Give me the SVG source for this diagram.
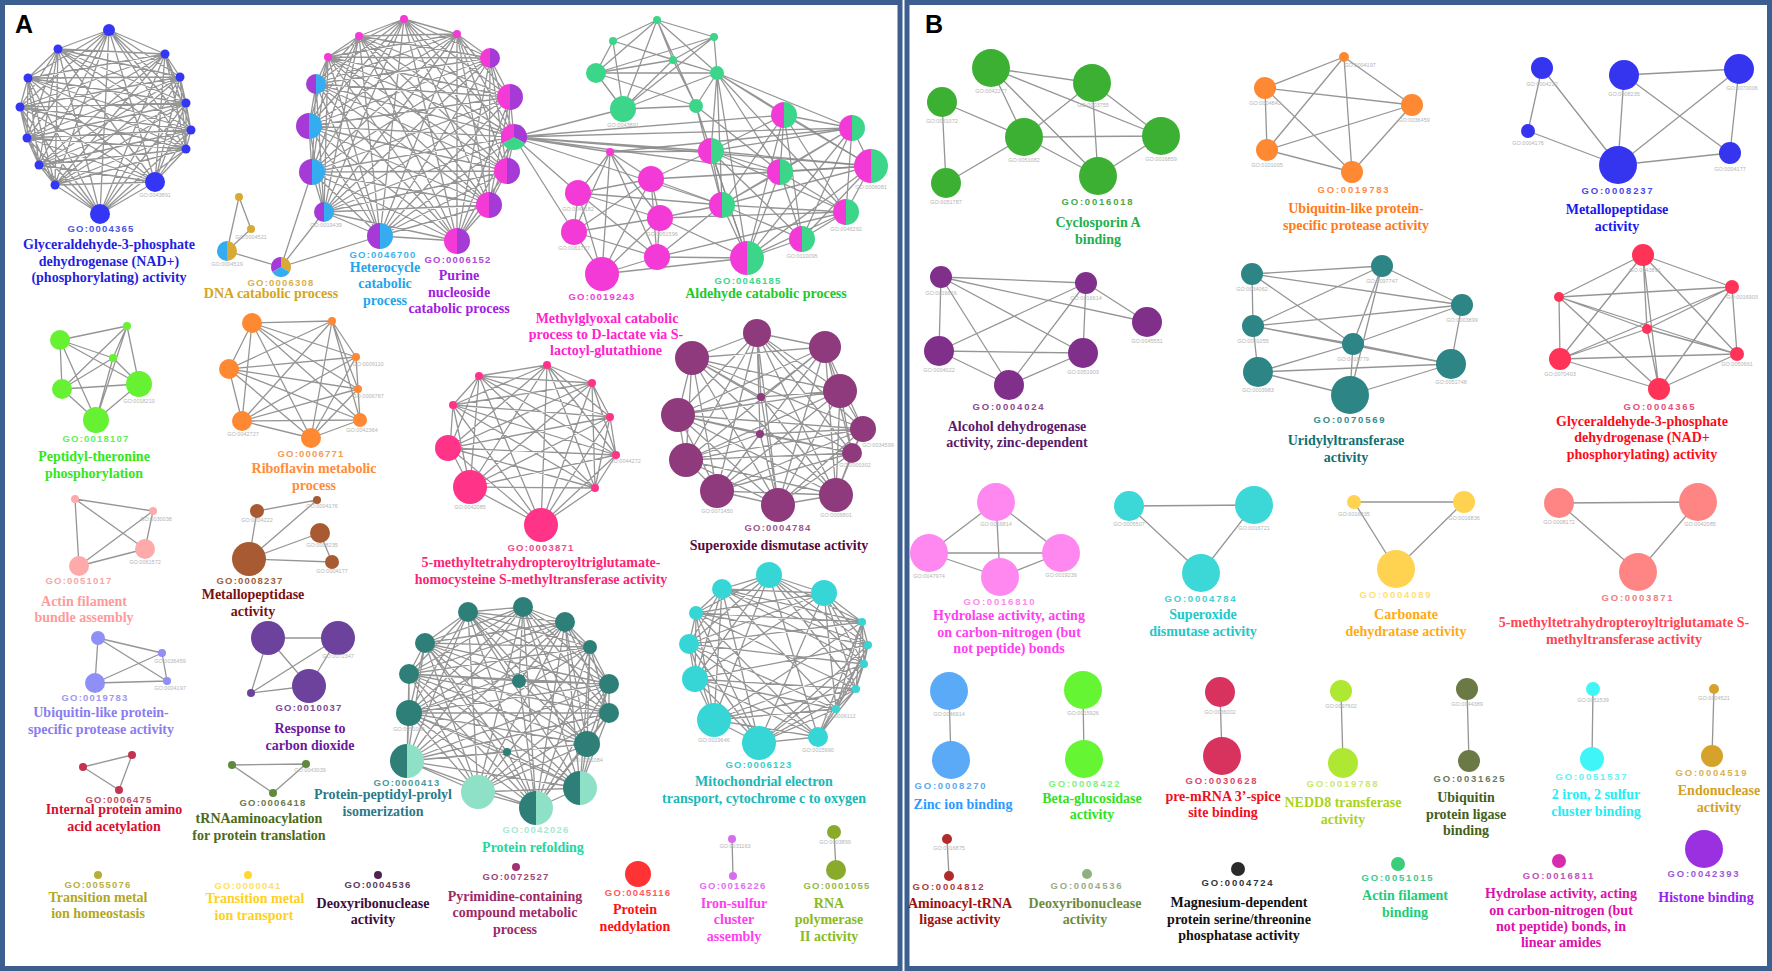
<svg xmlns="http://www.w3.org/2000/svg" width="1772" height="971" viewBox="0 0 1772 971">
<style>
.e{fill:none;stroke:#8a8a8a;stroke-width:1.3;stroke-opacity:.9;stroke-linejoin:round}
.t{font-family:"Liberation Serif","Times New Roman",serif;font-weight:bold;font-size:14px;text-anchor:middle}
.g{font-family:"Liberation Sans",Arial,sans-serif;font-weight:bold;font-size:9.5px;letter-spacing:1.2px;text-anchor:middle}
.gb{letter-spacing:1.8px}
.s{font-family:"Liberation Sans",Arial,sans-serif;font-size:5.5px;fill:#b4b4b4;text-anchor:middle}
.p{font-family:"Liberation Sans",Arial,sans-serif;font-weight:bold;font-size:25px;fill:#000}
.frame{fill:#fff;stroke:#3c5f8f;stroke-width:5}
</style>
<defs>
<linearGradient id="pb"><stop offset="0" stop-color="#a53ad6"/><stop offset=".5" stop-color="#a53ad6"/><stop offset=".5" stop-color="#35abf0"/><stop offset="1" stop-color="#35abf0"/></linearGradient>
<linearGradient id="mp"><stop offset="0" stop-color="#f43ad6"/><stop offset=".5" stop-color="#f43ad6"/><stop offset=".5" stop-color="#a53ad6"/><stop offset="1" stop-color="#a53ad6"/></linearGradient>
<linearGradient id="mg"><stop offset="0" stop-color="#f43ad6"/><stop offset=".5" stop-color="#f43ad6"/><stop offset=".5" stop-color="#3cd68a"/><stop offset="1" stop-color="#3cd68a"/></linearGradient>
<linearGradient id="bg"><stop offset="0" stop-color="#35abf0"/><stop offset=".5" stop-color="#35abf0"/><stop offset=".5" stop-color="#d9a935"/><stop offset="1" stop-color="#d9a935"/></linearGradient>
<linearGradient id="tt"><stop offset="0" stop-color="#2d7f78"/><stop offset=".5" stop-color="#2d7f78"/><stop offset=".5" stop-color="#8ee0c6"/><stop offset="1" stop-color="#8ee0c6"/></linearGradient>
</defs>
<rect x="0" y="0" width="1772" height="971" fill="#fff"/>
<rect class="frame" x="2.5" y="2.5" width="897.5" height="966"/>
<rect class="frame" x="907" y="2.5" width="862.5" height="966"/>
<text class="p" x="15" y="33">A</text>
<text class="p" x="925" y="33">B</text>

<g id="connectors">
<path class="e" d="M109 30L165 54L180 77L186 103L191 130L186 149L155 182L100 214L55 185L39 165L27 138L20 107L28 78L58 49Z M109 30L180 77L191 130L155 182L55 185L27 138L28 78Z M165 54L186 103L186 149L100 214L39 165L20 107L58 49Z M109 30L186 103L155 182L39 165L28 78L165 54L191 130L100 214L27 138L58 49L180 77L186 149L55 185L20 107Z M109 30L191 130L55 185L28 78L180 77L155 182L27 138Z M165 54L186 149L39 165L58 49L186 103L100 214L20 107Z M109 30L186 149L27 138L165 54L155 182L20 107L180 77L100 214L28 78L186 103L55 185L58 49L191 130L39 165Z M109 30L155 182L28 78L191 130L27 138L180 77L55 185Z M165 54L100 214L58 49L186 149L20 107L186 103L39 165Z M109 30L100 214M165 54L55 185M180 77L39 165M186 103L27 138M191 130L20 107M186 149L28 78M155 182L58 49"/>
<path class="e" d="M404 19L457 34L490 58L510 97L514 137L507 171L489 205L457 241L380 236L324 212L312 172L309 126L316 84L328 57L359 36Z M404 19L490 58L514 137L489 205L380 236L312 172L316 84L359 36L457 34L510 97L507 171L457 241L324 212L309 126L328 57Z M404 19L510 97L489 205L324 212L316 84Z M457 34L514 137L457 241L312 172L328 57Z M490 58L507 171L380 236L309 126L359 36Z M404 19L514 137L380 236L316 84L457 34L507 171L324 212L328 57L490 58L489 205L312 172L359 36L510 97L457 241L309 126Z M404 19L507 171L312 172Z M457 34L489 205L309 126Z M490 58L457 241L316 84Z M510 97L380 236L328 57Z M514 137L324 212L359 36Z M404 19L489 205L316 84L510 97L324 212Z M457 34L457 241L328 57L514 137L312 172Z M490 58L380 236L359 36L507 171L309 126Z M404 19L457 241L359 36L489 205L328 57L507 171L316 84L514 137L309 126L510 97L312 172L490 58L324 212L457 34L380 236Z"/>
<path class="e" d="M239 197L227 251M239 197L251 229M251 229L227 251M227 251L281 267M281 267L312 172M281 267L324 212M281 267L380 236"/>
<path class="e" d="M514 137L784 115M514 137L852 128M514 137L871 166M514 137L711 151M514 137L780 172M514 137L610 152M514 137L578 193M514 137L574 232M514 137L722 205M514 137L623 109"/>
<path class="e" d="M657 20L613 41M657 20L714 37M657 20L673 60M657 20L596 73M657 20L717 73M657 20L623 109M657 20L696 106M613 41L596 73M613 41L623 109M613 41L673 60M613 41L717 73M714 37L673 60M714 37L717 73M714 37L623 109M714 37L596 73M673 60L596 73M673 60L623 109M673 60L717 73M673 60L696 106M596 73L623 109M596 73L717 73M596 73L696 106M717 73L696 106M717 73L623 109M623 109L696 106"/>
<path class="e" d="M717 73L784 115M717 73L852 128M717 73L711 151M717 73L780 172M717 73L871 166M717 73L722 205M717 73L846 212M717 73L747 258M696 106L711 151M696 106L722 205M696 106L747 258M696 106L780 172"/>
<path class="e" d="M784 115L852 128L711 151L780 172L871 166L722 205L846 212L802 239L747 258Z M784 115L711 151L871 166L846 212L747 258L852 128L780 172L722 205L802 239Z M784 115L780 172L846 212Z M852 128L871 166L802 239Z M711 151L722 205L747 258Z M784 115L871 166L747 258L780 172L802 239L711 151L846 212L852 128L722 205Z"/>
<path class="e" d="M610 152L651 179L578 193L660 218L574 232L657 257L602 274Z M610 152L578 193L574 232L602 274L651 179L660 218L657 257Z M610 152L660 218L602 274L578 193L657 257L651 179L574 232Z"/>
<path class="e" d="M651 179L711 151M651 179L722 205M651 179L871 166M660 218L722 205M660 218L747 258M660 218L846 212M657 257L747 258M657 257L722 205M602 274L747 258M610 152L711 151M610 152L852 128M578 193L722 205M657 257L846 212M651 179L780 172"/>
<path class="e" d="M60 340L127 326M60 340L62 389M60 340L113 358M60 340L139 384M60 340L96 420M127 326L62 389M127 326L113 358M127 326L139 384M127 326L96 420M62 389L139 384M62 389L96 420M62 389L113 358M113 358L139 384M113 358L96 420M139 384L96 420"/>
<path class="e" d="M252 323L332 321L356 357L358 389L360 420L311 438L242 421L229 369Z M252 323L356 357L360 420L242 421Z M332 321L358 389L311 438L229 369Z M252 323L358 389L242 421L332 321L360 420L229 369L356 357L311 438Z M252 323L360 420M332 321L311 438M356 357L242 421M358 389L229 369"/>
<path class="e" d="M547 365L592 383L610 417L616 455L595 488L541 525L470 487L450 448L453 405L479 376Z M547 365L610 417L595 488L470 487L453 405Z M592 383L616 455L541 525L450 448L479 376Z M547 365L616 455L470 487L479 376L610 417L541 525L453 405L592 383L595 488L450 448Z M547 365L595 488L453 405L610 417L470 487Z M592 383L541 525L479 376L616 455L450 448Z M547 365L541 525M592 383L470 487M610 417L450 448M616 455L453 405M595 488L479 376"/>
<path class="e" d="M757 333L825 347L840 391L863 429L852 453L836 495L778 505L717 491L686 460L678 415L692 358Z M757 333L840 391L852 453L778 505L686 460L692 358L825 347L863 429L836 495L717 491L678 415Z M757 333L863 429L778 505L678 415L825 347L852 453L717 491L692 358L840 391L836 495L686 460Z M757 333L852 453L686 460L825 347L836 495L678 415L840 391L778 505L692 358L863 429L717 491Z M757 333L836 495L692 358L852 453L678 415L863 429L686 460L840 391L717 491L825 347L778 505Z M761 397L757 333M761 397L825 347M761 397L692 358M761 397L840 391M761 397L678 415M761 397L778 505M761 397L836 495M760 434L686 460M760 434L717 491M760 434L778 505M760 434L863 429M760 434L852 453M760 434L678 415M760 434L757 333"/>
<path class="e" d="M75 499L153 511M75 499L145 549M75 499L79 566M153 511L79 566M153 511L145 549M145 549L79 566"/>
<path class="e" d="M257 511L317 500M257 511L249 559M249 559L317 500M249 559L320 533M249 559L332 562M320 533L332 562"/>
<path class="e" d="M98 638L95 683M98 638L162 653M98 638L167 681M95 683L162 653M95 683L167 681M162 653L167 681"/>
<path class="e" d="M268 638L338 638M268 638L309 686M338 638L309 686M251 693L268 638M251 693L338 638M251 693L309 686"/>
<path class="e" d="M468 612L523 607L565 622L590 647L609 684L609 713L587 744L580 788L536 808L478 792L407 761L409 713L409 674L425 643Z M468 612L565 622L609 684L587 744L536 808L407 761L409 674Z M523 607L590 647L609 713L580 788L478 792L409 713L425 643Z M468 612L590 647L587 744L478 792L409 674L523 607L609 684L580 788L407 761L425 643L565 622L609 713L536 808L409 713Z M468 612L609 684L536 808L409 674L565 622L587 744L407 761Z M523 607L609 713L478 792L425 643L590 647L580 788L409 713Z M468 612L609 713L407 761L523 607L587 744L409 713L565 622L580 788L409 674L590 647L536 808L425 643L609 684L478 792Z M468 612L587 744L409 674L609 684L407 761L565 622L536 808Z M523 607L580 788L425 643L609 713L409 713L590 647L478 792Z M468 612L580 788M523 607L536 808M565 622L478 792M590 647L407 761M609 684L409 713M609 713L409 674M587 744L425 643 M519 681L468 612M519 681L523 607M519 681L565 622M519 681L409 674M519 681L409 713M519 681L536 808M519 681L587 744M519 681L609 684M507 752L536 808M507 752L407 761M507 752L409 713M507 752L425 643M507 752L580 788"/>
<path class="e" d="M769 575L824 593L862 622L868 645L864 664L856 689L836 709L818 737L759 743L714 720L695 679L689 644L696 613L722 589Z M769 575L862 622L864 664L836 709L759 743L695 679L696 613Z M824 593L868 645L856 689L818 737L714 720L689 644L722 589Z M769 575L868 645L836 709L714 720L696 613L824 593L864 664L818 737L695 679L722 589L862 622L856 689L759 743L689 644Z M769 575L864 664L759 743L696 613L862 622L836 709L695 679Z M824 593L856 689L714 720L722 589L868 645L818 737L689 644Z M769 575L856 689L695 679L824 593L836 709L689 644L862 622L818 737L696 613L868 645L759 743L722 589L864 664L714 720Z M769 575L818 737M824 593L759 743M862 622L714 720M868 645L695 679M864 664L689 644M856 689L696 613M836 709L722 589"/>
<path class="e" d="M132 755L83 767L119 790Z M232 765L306 764L273 793Z M732 839L733 876 M834 832L836 870"/>
<path class="e" d="M991 68L1092 83M991 68L1024 137M991 68L1098 176M991 68L1161 136M942 102L1024 137M942 102L946 183M946 183L1024 137M1024 137L1092 83M1024 137L1161 136M1024 137L1098 176M1092 83L1098 176M1092 83L1161 136M1161 136L1098 176"/>
<path class="e" d="M1265 88L1344 57M1265 88L1412 105M1265 88L1267 150M1265 88L1352 172M1267 150L1344 57M1267 150L1412 105M1267 150L1352 172M1344 57L1412 105M1344 57L1352 172M1412 105L1352 172"/>
<path class="e" d="M1542 68L1528 131M1542 68L1618 165M1528 131L1618 165M1624 75L1739 69M1624 75L1618 165M1624 75L1730 153M1739 69L1618 165M1739 69L1730 153M1618 165L1730 153"/>
<path class="e" d="M941 277L1086 283M941 277L1147 322M941 277L939 351M941 277L1009 385M941 277L1083 353M1086 283L939 351M1086 283L1009 385M1086 283L1083 353M1086 283L1147 322M939 351L1083 353M939 351L1009 385M1083 353L1009 385"/>
<path class="e" d="M1252 274L1382 266M1252 274L1253 326M1252 274L1462 305M1252 274L1353 344M1253 326L1382 266M1253 326L1462 305M1253 326L1353 344M1253 326L1451 364M1258 372L1353 344M1258 372L1451 364M1258 372L1350 395M1253 326L1258 372M1382 266L1462 305M1382 266L1353 344M1382 266L1350 395M1462 305L1353 344M1462 305L1451 364M1353 344L1451 364M1353 344L1350 395M1350 395L1451 364"/>
<path class="e" d="M1643 255L1732 287L1737 354L1659 389L1560 359L1559 297L1647 329Z M1643 255L1737 354L1560 359L1647 329L1732 287L1659 389L1559 297Z M1643 255L1659 389L1647 329L1737 354L1559 297L1732 287L1560 359Z"/>
<path class="e" d="M996 502L929 553M996 502L1061 553M996 502L1000 577M929 553L1061 553M929 553L1000 577M1000 577L1061 553 M1129 506L1254 505L1201 573Z M1354 502L1464 502L1396 569Z M1559 503L1698 502L1638 572Z"/>
<path class="e" d="M949 691L951 760M1083 690L1084 759M1220 692L1222 756M1341 691L1343 763M1467 689L1469 761M1593 689L1592 759M1714 689L1712 756M947 839L949 876"/>
</g>

<g id="n-GO0004365a" fill="#3535f5">
<circle cx="109" cy="30" r="6"/><circle cx="165" cy="54" r="4.5"/><circle cx="180" cy="77" r="4.5"/><circle cx="186" cy="103" r="4.5"/><circle cx="191" cy="130" r="4.5"/><circle cx="186" cy="149" r="4.5"/><circle cx="155" cy="182" r="10"/><circle cx="100" cy="214" r="10"/><circle cx="55" cy="185" r="4.5"/><circle cx="39" cy="165" r="4.5"/><circle cx="27" cy="138" r="4.5"/><circle cx="20" cy="107" r="4.5"/><circle cx="28" cy="78" r="4.5"/><circle cx="58" cy="49" r="4.5"/>
<text class="s" x="155" y="197">GO:0043891</text>
<text class="g" x="101" y="232" fill="#4a55e6">GO:0004365</text>
<text class="t" fill="#1f1fe0"><tspan x="109" y="249">Glyceraldehyde-3-phosphate</tspan><tspan x="109" y="266">dehydrogenase (NAD+)</tspan><tspan x="109" y="282">(phosphorylating) activity</tspan></text>
</g>

<g id="n-GO0006308">
<circle cx="239" cy="197" r="4" fill="#d9a935"/><circle cx="251" cy="229" r="4" fill="#d9a935"/><circle cx="227" cy="251" r="10" fill="url(#bg)"/>
<path d="M281 267L281 257A10 10 0 0 0 272.34 272Z" fill="#a53ad6"/><path d="M281 267L281 257A10 10 0 0 1 289.66 272Z" fill="#d9a935"/><path d="M281 267L289.66 272A10 10 0 0 1 272.34 272Z" fill="#35abf0"/>
<text class="s" x="251" y="239">GO:0004521</text><text class="s" x="227" y="266">GO:0004519</text>
<text class="g" x="281" y="286" fill="#d9b04a">GO:0006308</text>
<text class="t" x="271" y="298" fill="#d4a520">DNA catabolic process</text>
</g>

<g id="n-GO0046700">
<circle cx="404" cy="19" r="4" fill="#f43ad6"/><circle cx="457" cy="34" r="4" fill="#f43ad6"/><circle cx="328" cy="57" r="4" fill="#f43ad6"/><circle cx="359" cy="36" r="4" fill="#f43ad6"/>
<circle cx="316" cy="84" r="10" fill="url(#pb)"/><circle cx="309" cy="126" r="13" fill="url(#pb)"/><circle cx="312" cy="172" r="13" fill="url(#pb)"/><circle cx="324" cy="212" r="10" fill="url(#pb)"/><circle cx="380" cy="236" r="13" fill="url(#pb)"/>
<text class="s" x="326" y="227">GO:0019439</text>
<text class="g" x="383" y="258" fill="#3ab4ee">GO:0046700</text>
<text class="t" fill="#1fa5ec"><tspan x="385" y="272">Heterocycle</tspan><tspan x="385" y="288">catabolic</tspan><tspan x="385" y="305">process</tspan></text>
</g>

<g id="n-GO0006152">
<circle cx="490" cy="58" r="10" fill="url(#mp)"/><circle cx="510" cy="97" r="13" fill="url(#mp)"/><circle cx="507" cy="171" r="13" fill="url(#mp)"/><circle cx="489" cy="205" r="13" fill="url(#mp)"/><circle cx="457" cy="241" r="13" fill="url(#mp)"/>
<path d="M514 137L514 124A13 13 0 0 0 502.74 143.5Z" fill="#f43ad6"/><path d="M514 137L514 124A13 13 0 0 1 525.26 143.5Z" fill="#a53ad6"/><path d="M514 137L525.26 143.5A13 13 0 0 1 502.74 143.5Z" fill="#3cd68a"/>
<text class="g" x="458" y="263" fill="#b048d8">GO:0006152</text>
<text class="t" fill="#a020e0"><tspan x="459" y="280">Purine</tspan><tspan x="459" y="297">nucleoside</tspan><tspan x="459" y="313">catabolic process</tspan></text>
</g>

<g id="n-GO0019243" fill="#f43ad6">
<circle cx="610" cy="152" r="4"/><circle cx="651" cy="179" r="13"/><circle cx="578" cy="193" r="13"/><circle cx="660" cy="218" r="13"/><circle cx="574" cy="232" r="13"/><circle cx="657" cy="257" r="13"/><circle cx="602" cy="274" r="17"/>
<text class="s" x="578" y="211">GO:0042182</text><text class="s" x="662" y="236">GO:0051596</text><text class="s" x="574" y="250">GO:0061727</text>
<text class="g" x="602" y="300" fill="#f040d0">GO:0019243</text>
<text class="t" fill="#ff22cc"><tspan x="607" y="323">Methylglyoxal catabolic</tspan><tspan x="606" y="339">process to D-lactate via S-</tspan><tspan x="606" y="355">lactoyl-glutathione</tspan></text>
</g>

<g id="n-GO0046185">
<g fill="#3cd68a"><circle cx="657" cy="20" r="4"/><circle cx="613" cy="41" r="4"/><circle cx="714" cy="37" r="4"/><circle cx="673" cy="60" r="4"/><circle cx="596" cy="73" r="10"/><circle cx="717" cy="73" r="7"/><circle cx="623" cy="109" r="13"/><circle cx="696" cy="106" r="7"/></g>
<g fill="url(#mg)"><circle cx="784" cy="115" r="13"/><circle cx="852" cy="128" r="13"/><circle cx="711" cy="151" r="13"/><circle cx="780" cy="172" r="13"/><circle cx="871" cy="166" r="17"/><circle cx="722" cy="205" r="13"/><circle cx="846" cy="212" r="13"/><circle cx="802" cy="239" r="13"/><circle cx="747" cy="258" r="17"/></g>
<text class="s" x="623" y="127">GO:0043891</text><text class="s" x="871" y="189">GO:0006081</text><text class="s" x="846" y="231">GO:0046292</text><text class="s" x="802" y="258">GO:0110095</text>
<text class="g" x="748" y="284" fill="#3dd68c">GO:0046185</text>
<text class="t" x="766" y="298" fill="#22c82a">Aldehyde catabolic process</text>
</g>

<g id="n-GO0018107" fill="#66f233">
<circle cx="127" cy="326" r="4"/><circle cx="60" cy="340" r="10"/><circle cx="113" cy="358" r="4"/><circle cx="62" cy="389" r="10"/><circle cx="139" cy="384" r="13"/><circle cx="96" cy="420" r="13"/>
<text class="s" x="139" y="403">GO:0018210</text>
<text class="g" x="96" y="442" fill="#66ee55">GO:0018107</text>
<text class="t" fill="#33e61a"><tspan x="94" y="461">Peptidyl-theronine</tspan><tspan x="94" y="478">phosphorylation</tspan></text>
</g>

<g id="n-GO0006771" fill="#ff8833">
<circle cx="252" cy="323" r="10"/><circle cx="332" cy="321" r="4"/><circle cx="229" cy="369" r="10"/><circle cx="356" cy="357" r="4"/><circle cx="358" cy="389" r="4"/><circle cx="242" cy="421" r="10"/><circle cx="360" cy="420" r="7"/><circle cx="311" cy="438" r="10"/>
<text class="s" x="368" y="366">GO:0009110</text><text class="s" x="368" y="398">GO:0006767</text><text class="s" x="243" y="436">GO:0042727</text><text class="s" x="362" y="432">GO:0042364</text>
<text class="g" x="311" y="457" fill="#f59a55">GO:0006771</text>
<text class="t" fill="#ff8c3a"><tspan x="314" y="473">Riboflavin metabolic</tspan><tspan x="314" y="490">process</tspan></text>
</g>

<g id="n-GO0051017" fill="#ffaaaa">
<circle cx="75" cy="499" r="4"/><circle cx="153" cy="511" r="4"/><circle cx="145" cy="549" r="10"/><circle cx="79" cy="566" r="10"/>
<text class="s" x="156" y="521">GO:0030038</text><text class="s" x="145" y="564">GO:0061572</text>
<text class="g" x="79" y="584" fill="#f5a8a8">GO:0051017</text>
<text class="t" fill="#ff9a9a"><tspan x="84" y="606">Actin filament</tspan><tspan x="84" y="622">bundle assembly</tspan></text>
</g>

<g id="n-GO0008237a" fill="#a85a32">
<circle cx="257" cy="511" r="7"/><circle cx="317" cy="500" r="4"/><circle cx="320" cy="533" r="10"/><circle cx="332" cy="562" r="7"/><circle cx="249" cy="559" r="17"/>
<text class="s" x="257" y="522">GO:0004222</text><text class="s" x="322" y="508">GO:0004176</text><text class="s" x="322" y="547">GO:0008235</text><text class="s" x="332" y="573">GO:0004177</text>
<text class="g" x="250" y="584" fill="#a0603a">GO:0008237</text>
<text class="t" fill="#7a1010"><tspan x="253" y="599">Metallopeptidase</tspan><tspan x="253" y="616">activity</tspan></text>
</g>

<g id="n-GO0003871a" fill="#ff3388">
<circle cx="547" cy="365" r="4"/><circle cx="592" cy="383" r="4"/><circle cx="610" cy="417" r="4"/><circle cx="616" cy="455" r="4"/><circle cx="595" cy="488" r="4"/><circle cx="541" cy="525" r="17"/><circle cx="470" cy="487" r="17"/><circle cx="448" cy="448" r="13"/><circle cx="453" cy="405" r="4"/><circle cx="479" cy="376" r="4"/>
<text class="s" x="625" y="463">GO:0044272</text><text class="s" x="470" y="509">GO:0042085</text>
<text class="g" x="541" y="551" fill="#f04a8a">GO:0003871</text>
<text class="t" fill="#ff1f75"><tspan x="541" y="567">5-methyltetrahydropteroyltriglutamate-</tspan><tspan x="541" y="584">homocysteine S-methyltransferase activity</tspan></text>
</g>

<g id="n-GO0004784a" fill="#8e3a7c">
<circle cx="757" cy="333" r="14"/><circle cx="825" cy="347" r="16"/><circle cx="692" cy="358" r="17"/><circle cx="840" cy="391" r="17"/><circle cx="761" cy="397" r="4"/><circle cx="678" cy="415" r="17"/><circle cx="863" cy="429" r="13"/><circle cx="760" cy="434" r="4"/><circle cx="686" cy="460" r="17"/><circle cx="852" cy="453" r="10"/><circle cx="717" cy="491" r="17"/><circle cx="836" cy="495" r="17"/><circle cx="778" cy="505" r="17"/>
<text class="s" x="717" y="513">GO:0071450</text><text class="s" x="836" y="517">GO:0006801</text><text class="s" x="855" y="467">GO:0000302</text><text class="s" x="878" y="447">GO:0034599</text>
<text class="g" x="778" y="531" fill="#9a5a8a">GO:0004784</text>
<text class="t" x="779" y="550" fill="#5a0a3c">Superoxide dismutase activity</text>
</g>

<g id="n-GO0019783a" fill="#8f8ff8">
<circle cx="98" cy="638" r="7"/><circle cx="162" cy="653" r="4"/><circle cx="167" cy="681" r="4"/><circle cx="95" cy="683" r="10"/>
<text class="s" x="170" y="663">GO:0036459</text><text class="s" x="170" y="690">GO:0004197</text>
<text class="g" x="95" y="701" fill="#a098f0">GO:0019783</text>
<text class="t" fill="#8a7cf0"><tspan x="101" y="717">Ubiquitin-like protein-</tspan><tspan x="101" y="734">specific protease activity</tspan></text>
</g>

<g id="n-GO0010037" fill="#6c429c">
<circle cx="268" cy="638" r="17"/><circle cx="338" cy="638" r="17"/><circle cx="309" cy="686" r="17"/><circle cx="251" cy="693" r="4"/>
<text class="s" x="338" y="658">GO:0072347</text>
<text class="g" x="309" y="711" fill="#7a4a9a">GO:0010037</text>
<text class="t" fill="#6a1aa0"><tspan x="310" y="733">Response to</tspan><tspan x="310" y="750">carbon dioxide</tspan></text>
</g>

<g id="n-GO0042026">
<g fill="#2d7f78"><circle cx="468" cy="612" r="10"/><circle cx="523" cy="607" r="10"/><circle cx="565" cy="622" r="10"/><circle cx="590" cy="647" r="7"/><circle cx="609" cy="684" r="10"/><circle cx="609" cy="713" r="10"/><circle cx="587" cy="744" r="13"/><circle cx="409" cy="713" r="13"/><circle cx="409" cy="674" r="10"/><circle cx="425" cy="643" r="10"/><circle cx="519" cy="681" r="7"/><circle cx="507" cy="752" r="4"/></g>
<circle cx="478" cy="792" r="17" fill="#8ee0c6"/>
<circle cx="580" cy="788" r="17" fill="url(#tt)"/><circle cx="536" cy="808" r="17" fill="url(#tt)"/>
<text class="s" x="587" y="762">GO:0051084</text><text class="s" x="409" y="731">GO:0051085</text>
<text class="g" x="536" y="833" fill="#a8e8d5">GO:0042026</text>
<text class="t" x="533" y="852" fill="#20d8a0">Protein refolding</text>
</g>

<g id="n-GO0000413">
<circle cx="407" cy="761" r="17" fill="url(#tt)"/>
<text class="g" x="407" y="786" fill="#4a9a9a">GO:0000413</text>
<text class="t" fill="#2a7a8a"><tspan x="383" y="799">Protein-peptidyl-prolyl</tspan><tspan x="383" y="816">isomerization</tspan></text>
</g>

<g id="n-GO0006123" fill="#36d6d6">
<circle cx="769" cy="575" r="13"/><circle cx="824" cy="593" r="13"/><circle cx="862" cy="622" r="4"/><circle cx="868" cy="645" r="4"/><circle cx="864" cy="664" r="4"/><circle cx="856" cy="689" r="4"/><circle cx="836" cy="709" r="4"/><circle cx="818" cy="737" r="10"/><circle cx="759" cy="743" r="17"/><circle cx="714" cy="720" r="17"/><circle cx="695" cy="679" r="13"/><circle cx="689" cy="644" r="10"/><circle cx="696" cy="613" r="7"/><circle cx="722" cy="589" r="10"/>
<text class="s" x="714" y="742">GO:0019646</text><text class="s" x="818" y="752">GO:0015990</text><text class="s" x="840" y="718">GO:0006112</text>
<text class="g" x="759" y="768" fill="#3acccc">GO:0006123</text>
<text class="t" fill="#18b8b8"><tspan x="764" y="786">Mitochondrial electron</tspan><tspan x="764" y="803">transport, cytochrome c to oxygen</tspan></text>
</g>

<g id="n-GO0006475" fill="#c43450">
<circle cx="132" cy="755" r="4"/><circle cx="83" cy="767" r="4"/><circle cx="119" cy="790" r="4"/>
<text class="g" x="119" y="803" fill="#c04a5a">GO:0006475</text>
<text class="t" fill="#d81030"><tspan x="114" y="814">Internal protein amino</tspan><tspan x="114" y="831">acid acetylation</tspan></text>
</g>

<g id="n-GO0006418" fill="#5f8a3c">
<circle cx="232" cy="765" r="4"/><circle cx="306" cy="764" r="4"/><circle cx="273" cy="793" r="4"/>
<text class="s" x="310" y="772">GO:0043039</text>
<text class="g" x="273" y="806" fill="#6a7a4a">GO:0006418</text>
<text class="t" fill="#4a6a1a"><tspan x="259" y="823">tRNAaminoacylation</tspan><tspan x="259" y="840">for protein translation</tspan></text>
</g>

<g id="n-GO0055076">
<circle cx="98" cy="875" r="4" fill="#b5b035"/>
<text class="g" x="98" y="888" fill="#b8b040">GO:0055076</text>
<text class="t" fill="#b0a820"><tspan x="98" y="902">Transition metal</tspan><tspan x="98" y="918">ion homeostasis</tspan></text>
</g>

<g id="n-GO0000041">
<circle cx="248" cy="875" r="4" fill="#ffd633"/>
<text class="g" x="248" y="889" fill="#ffe060">GO:0000041</text>
<text class="t" fill="#ffd020"><tspan x="255" y="903">Transition metal</tspan><tspan x="254" y="920">ion transport</tspan></text>
</g>

<g id="n-GO0004536a">
<circle cx="378" cy="875" r="4" fill="#4f2250"/>
<text class="g" x="378" y="888" fill="#5a3a5a">GO:0004536</text>
<text class="t" fill="#3d0d3d"><tspan x="373" y="908">Deoxyribonuclease</tspan><tspan x="373" y="924">activity</tspan></text>
</g>

<g id="n-GO0072527">
<circle cx="516" cy="867" r="4" fill="#a33070"/>
<text class="g" x="516" y="880" fill="#a04878">GO:0072527</text>
<text class="t" fill="#9c2a68"><tspan x="515" y="901">Pyrimidine-containing</tspan><tspan x="515" y="917">compound metabolic</tspan><tspan x="515" y="934">process</tspan></text>
</g>

<g id="n-GO0045116">
<circle cx="638" cy="874" r="13" fill="#ff3333"/>
<text class="g" x="638" y="896" fill="#ff5a5a">GO:0045116</text>
<text class="t" fill="#ff1010"><tspan x="635" y="914">Protein</tspan><tspan x="635" y="931">neddylation</tspan></text>
</g>

<g id="n-GO0016226" fill="#d86cf0">
<circle cx="732" cy="839" r="4"/><circle cx="733" cy="876" r="4"/>
<text class="s" x="735" y="848">GO:0031163</text>
<text class="g" x="733" y="889" fill="#e070f0">GO:0016226</text>
<text class="t" fill="#ff40ee"><tspan x="734" y="908">Iron-sulfur</tspan><tspan x="734" y="924">cluster</tspan><tspan x="734" y="941">assembly</tspan></text>
</g>

<g id="n-GO0001055" fill="#8aaa2c">
<circle cx="834" cy="832" r="7"/><circle cx="836" cy="870" r="10"/>
<text class="s" x="835" y="844">GO:0003899</text>
<text class="g" x="837" y="889" fill="#98b848">GO:0001055</text>
<text class="t" fill="#88bb20"><tspan x="829" y="908">RNA</tspan><tspan x="829" y="924">polymerase</tspan><tspan x="829" y="941">II activity</tspan></text>
</g>

<g id="n-GO0016018" fill="#3cb033">
<circle cx="991" cy="68" r="19"/><circle cx="942" cy="102" r="15"/><circle cx="1092" cy="83" r="19"/><circle cx="1024" cy="137" r="19"/><circle cx="1161" cy="136" r="19"/><circle cx="946" cy="183" r="15"/><circle cx="1098" cy="176" r="19"/>
<text class="s" x="991" y="93">GO:0042277</text><text class="s" x="942" y="123">GO:0051072</text><text class="s" x="1093" y="107">GO:0003755</text><text class="s" x="1024" y="162">GO:0051082</text><text class="s" x="1161" y="161">GO:0016859</text><text class="s" x="946" y="204">GO:0051787</text>
<text class="g gb" x="1098" y="205" fill="#4aa84a">GO:0016018</text>
<text class="t" fill="#20b050"><tspan x="1098" y="227">Cyclosporin A</tspan><tspan x="1098" y="244">binding</tspan></text>
</g>

<g id="n-GO0019783b" fill="#ff8833">
<circle cx="1265" cy="88" r="11"/><circle cx="1267" cy="150" r="11"/><circle cx="1344" cy="57" r="5"/><circle cx="1412" cy="105" r="11"/><circle cx="1352" cy="172" r="11"/>
<text class="s" x="1265" y="105">GO:0004843</text><text class="s" x="1267" y="167">GO:0101005</text><text class="s" x="1360" y="67">GO:0004197</text><text class="s" x="1414" y="122">GO:0036459</text>
<text class="g gb" x="1354" y="193" fill="#ff8c42">GO:0019783</text>
<text class="t" fill="#ff7a1a"><tspan x="1356" y="213">Ubiquitin-like protein-</tspan><tspan x="1356" y="230">specific protease activity</tspan></text>
</g>

<g id="n-GO0008237b" fill="#3535f0">
<circle cx="1542" cy="68" r="11"/><circle cx="1624" cy="75" r="15"/><circle cx="1739" cy="69" r="15"/><circle cx="1528" cy="131" r="7"/><circle cx="1730" cy="153" r="11"/><circle cx="1618" cy="165" r="19"/>
<text class="s" x="1542" y="86">GO:0004222</text><text class="s" x="1624" y="96">GO:0008235</text><text class="s" x="1742" y="90">GO:0070006</text><text class="s" x="1528" y="145">GO:0004176</text><text class="s" x="1730" y="171">GO:0004177</text>
<text class="g gb" x="1618" y="194" fill="#4a4ae8">GO:0008237</text>
<text class="t" fill="#1818f0"><tspan x="1617" y="214">Metallopeptidase</tspan><tspan x="1617" y="231">activity</tspan></text>
</g>

<g id="n-GO0004024" fill="#80308a">
<circle cx="941" cy="277" r="11"/><circle cx="1086" cy="283" r="11"/><circle cx="1147" cy="322" r="15"/><circle cx="939" cy="351" r="15"/><circle cx="1083" cy="353" r="15"/><circle cx="1009" cy="385" r="15"/>
<text class="s" x="941" y="295">GO:0016616</text><text class="s" x="1086" y="300">GO:0016614</text><text class="s" x="1147" y="343">GO:0045551</text><text class="s" x="939" y="372">GO:0004022</text><text class="s" x="1083" y="374">GO:0051903</text>
<text class="g gb" x="1009" y="410" fill="#8a4a8f">GO:0004024</text>
<text class="t" fill="#5a1a6a"><tspan x="1017" y="431">Alcohol dehydrogenase</tspan><tspan x="1017" y="447">activity, zinc-dependent</tspan></text>
</g>

<g id="n-GO0070569" fill="#2e8585">
<circle cx="1252" cy="274" r="11"/><circle cx="1253" cy="326" r="11"/><circle cx="1258" cy="372" r="15"/><circle cx="1382" cy="266" r="11"/><circle cx="1462" cy="305" r="11"/><circle cx="1353" cy="344" r="11"/><circle cx="1451" cy="364" r="15"/><circle cx="1350" cy="395" r="19"/>
<text class="s" x="1252" y="291">GO:0034062</text><text class="s" x="1253" y="343">GO:0001055</text><text class="s" x="1258" y="392">GO:0003983</text><text class="s" x="1382" y="283">GO:0097747</text><text class="s" x="1462" y="322">GO:0003899</text><text class="s" x="1353" y="361">GO:0016779</text><text class="s" x="1451" y="384">GO:0051748</text>
<text class="g gb" x="1350" y="423" fill="#3a8a8a">GO:0070569</text>
<text class="t" fill="#137070"><tspan x="1346" y="445">Uridylyltransferase</tspan><tspan x="1346" y="462">activity</tspan></text>
</g>

<g id="n-GO0004365b" fill="#ff3358">
<circle cx="1643" cy="255" r="11"/><circle cx="1732" cy="287" r="7"/><circle cx="1559" cy="297" r="5"/><circle cx="1647" cy="329" r="5"/><circle cx="1560" cy="359" r="11"/><circle cx="1737" cy="354" r="7"/><circle cx="1659" cy="389" r="11"/>
<text class="s" x="1645" y="272">GO:0043891</text><text class="s" x="1742" y="299">GO:0016903</text><text class="s" x="1560" y="376">GO:0070403</text><text class="s" x="1737" y="366">GO:0050661</text>
<text class="g gb" x="1660" y="410" fill="#e8507a">GO:0004365</text>
<text class="t" fill="#ff0a1a"><tspan x="1642" y="426">Glyceraldehyde-3-phosphate</tspan><tspan x="1642" y="442">dehydrogenase (NAD+</tspan><tspan x="1642" y="459">phosphorylating) activity</tspan></text>
</g>

<g id="n-GO0016810" fill="#ff88f0">
<circle cx="996" cy="502" r="19"/><circle cx="929" cy="553" r="19"/><circle cx="1061" cy="553" r="19"/><circle cx="1000" cy="577" r="19"/>
<text class="s" x="996" y="526">GO:0016814</text><text class="s" x="929" y="578">GO:0047974</text><text class="s" x="1061" y="577">GO:0019239</text>
<text class="g gb" x="1000" y="605" fill="#ff88ee">GO:0016810</text>
<text class="t" fill="#ff40f0"><tspan x="1009" y="620">Hydrolase activity, acting</tspan><tspan x="1009" y="637">on carbon-nitrogen (but</tspan><tspan x="1009" y="653">not peptide) bonds</tspan></text>
</g>

<g id="n-GO0004784b" fill="#3cd8d8">
<circle cx="1129" cy="506" r="15"/><circle cx="1254" cy="505" r="19"/><circle cx="1201" cy="573" r="19"/>
<text class="s" x="1129" y="526">GO:0005507</text><text class="s" x="1254" y="530">GO:0016721</text>
<text class="g gb" x="1201" y="602" fill="#40d0d0">GO:0004784</text>
<text class="t" fill="#20c8c8"><tspan x="1203" y="619">Superoxide</tspan><tspan x="1203" y="636">dismutase activity</tspan></text>
</g>

<g id="n-GO0004089" fill="#ffd24f">
<circle cx="1354" cy="502" r="7"/><circle cx="1464" cy="502" r="11"/><circle cx="1396" cy="569" r="19"/>
<text class="s" x="1354" y="516">GO:0016835</text><text class="s" x="1464" y="520">GO:0016836</text>
<text class="g gb" x="1396" y="598" fill="#ffe070">GO:0004089</text>
<text class="t" fill="#ffaa10"><tspan x="1406" y="619">Carbonate</tspan><tspan x="1406" y="636">dehydratase activity</tspan></text>
</g>

<g id="n-GO0003871b" fill="#ff8585">
<circle cx="1559" cy="503" r="15"/><circle cx="1698" cy="502" r="19"/><circle cx="1638" cy="572" r="19"/>
<text class="s" x="1559" y="524">GO:0008172</text><text class="s" x="1700" y="526">GO:0042085</text>
<text class="g gb" x="1638" y="601" fill="#f08080">GO:0003871</text>
<text class="t" fill="#ff4455"><tspan x="1624" y="627">5-methyltetrahydropteroyltriglutamate S-</tspan><tspan x="1624" y="644">methyltransferase activity</tspan></text>
</g>

<g id="n-GO0008270" fill="#5aaaf8">
<circle cx="949" cy="691" r="19"/><circle cx="951" cy="760" r="19"/>
<text class="s" x="949" y="716">GO:0046914</text>
<text class="g gb" x="951" y="789" fill="#5aaaf0">GO:0008270</text>
<text class="t" x="963" y="809" fill="#2e9aff">Zinc ion binding</text>
</g>

<g id="n-GO0008422" fill="#66f533">
<circle cx="1083" cy="690" r="19"/><circle cx="1084" cy="759" r="19"/>
<text class="s" x="1083" y="715">GO:0015926</text>
<text class="g gb" x="1085" y="787" fill="#80f080">GO:0008422</text>
<text class="t" fill="#33e022"><tspan x="1092" y="803">Beta-glucosidase</tspan><tspan x="1092" y="819">activity</tspan></text>
</g>

<g id="n-GO0030628" fill="#d8335e">
<circle cx="1220" cy="692" r="15"/><circle cx="1222" cy="756" r="19"/>
<text class="s" x="1220" y="714">GO:0036002</text>
<text class="g gb" x="1222" y="784" fill="#d84a6a">GO:0030628</text>
<text class="t" fill="#ee1022"><tspan x="1223" y="801">pre-mRNA 3’-spice</tspan><tspan x="1223" y="817">site binding</tspan></text>
</g>

<g id="n-GO0019788" fill="#aee833">
<circle cx="1341" cy="691" r="11"/><circle cx="1343" cy="763" r="15"/>
<text class="s" x="1341" y="708">GO:0097602</text>
<text class="g gb" x="1343" y="787" fill="#c8e870">GO:0019788</text>
<text class="t" fill="#a8d418"><tspan x="1343" y="807">NEDD8 transferase</tspan><tspan x="1343" y="824">activity</tspan></text>
</g>

<g id="n-GO0031625" fill="#6b7a45">
<circle cx="1467" cy="689" r="11"/><circle cx="1469" cy="761" r="11"/>
<text class="s" x="1467" y="706">GO:0044389</text>
<text class="g gb" x="1470" y="782" fill="#6a7a5a">GO:0031625</text>
<text class="t" fill="#44601a"><tspan x="1466" y="802">Ubiquitin</tspan><tspan x="1466" y="819">protein ligase</tspan><tspan x="1466" y="835">binding</tspan></text>
</g>

<g id="n-GO0051537" fill="#3ff5f8">
<circle cx="1593" cy="689" r="7"/><circle cx="1592" cy="759" r="12"/>
<text class="s" x="1593" y="702">GO:0051539</text>
<text class="g gb" x="1592" y="780" fill="#66f0f0">GO:0051537</text>
<text class="t" fill="#22eef5"><tspan x="1596" y="799">2 iron, 2 sulfur</tspan><tspan x="1596" y="816">cluster binding</tspan></text>
</g>

<g id="n-GO0004519" fill="#d6a32a">
<circle cx="1714" cy="689" r="5"/><circle cx="1712" cy="756" r="11"/>
<text class="s" x="1714" y="700">GO:0004521</text>
<text class="g gb" x="1712" y="776" fill="#dcb050">GO:0004519</text>
<text class="t" fill="#d4a020"><tspan x="1719" y="795">Endonuclease</tspan><tspan x="1719" y="812">activity</tspan></text>
</g>

<g id="n-GO0004812" fill="#b22a2a">
<circle cx="947" cy="839" r="5"/><circle cx="949" cy="876" r="5"/>
<text class="s" x="949" y="850">GO:0016875</text>
<text class="g gb" x="949" y="890" fill="#b03a3a">GO:0004812</text>
<text class="t" fill="#a01010"><tspan x="960" y="908">Aminoacyl-tRNA</tspan><tspan x="960" y="924">ligase activity</tspan></text>
</g>

<g id="n-GO0004536b">
<circle cx="1087" cy="874" r="5" fill="#8fb080"/>
<text class="g gb" x="1087" y="889" fill="#9aaa88">GO:0004536</text>
<text class="t" fill="#6e8a3e"><tspan x="1085" y="908">Deoxyribonuclease</tspan><tspan x="1085" y="924">activity</tspan></text>
</g>

<g id="n-GO0004724">
<circle cx="1238" cy="869" r="7" fill="#2a2a2a"/>
<text class="g gb" x="1238" y="886" fill="#333">GO:0004724</text>
<text class="t" fill="#111"><tspan x="1239" y="907">Magnesium-dependent</tspan><tspan x="1239" y="924">protein serine/threonine</tspan><tspan x="1239" y="940">phosphatase activity</tspan></text>
</g>

<g id="n-GO0051015">
<circle cx="1398" cy="864" r="7" fill="#3acd7a"/>
<text class="g gb" x="1398" y="881" fill="#40c890">GO:0051015</text>
<text class="t" fill="#22cc77"><tspan x="1405" y="900">Actin filament</tspan><tspan x="1405" y="917">binding</tspan></text>
</g>

<g id="n-GO0016811">
<circle cx="1559" cy="861" r="7" fill="#d82cae"/>
<text class="g gb" x="1559" y="879" fill="#c050b8">GO:0016811</text>
<text class="t" fill="#dd10aa"><tspan x="1561" y="898">Hydrolase activity, acting</tspan><tspan x="1561" y="915">on carbon-nitrogen (but</tspan><tspan x="1561" y="931">not peptide) bonds, in</tspan><tspan x="1561" y="947">linear amides</tspan></text>
</g>

<g id="n-GO0042393">
<circle cx="1704" cy="849" r="19" fill="#9b30e0"/>
<text class="g gb" x="1704" y="877" fill="#9a5ad8">GO:0042393</text>
<text class="t" x="1706" y="902" fill="#9922ee">Histone binding</text>
</g>
</svg>
